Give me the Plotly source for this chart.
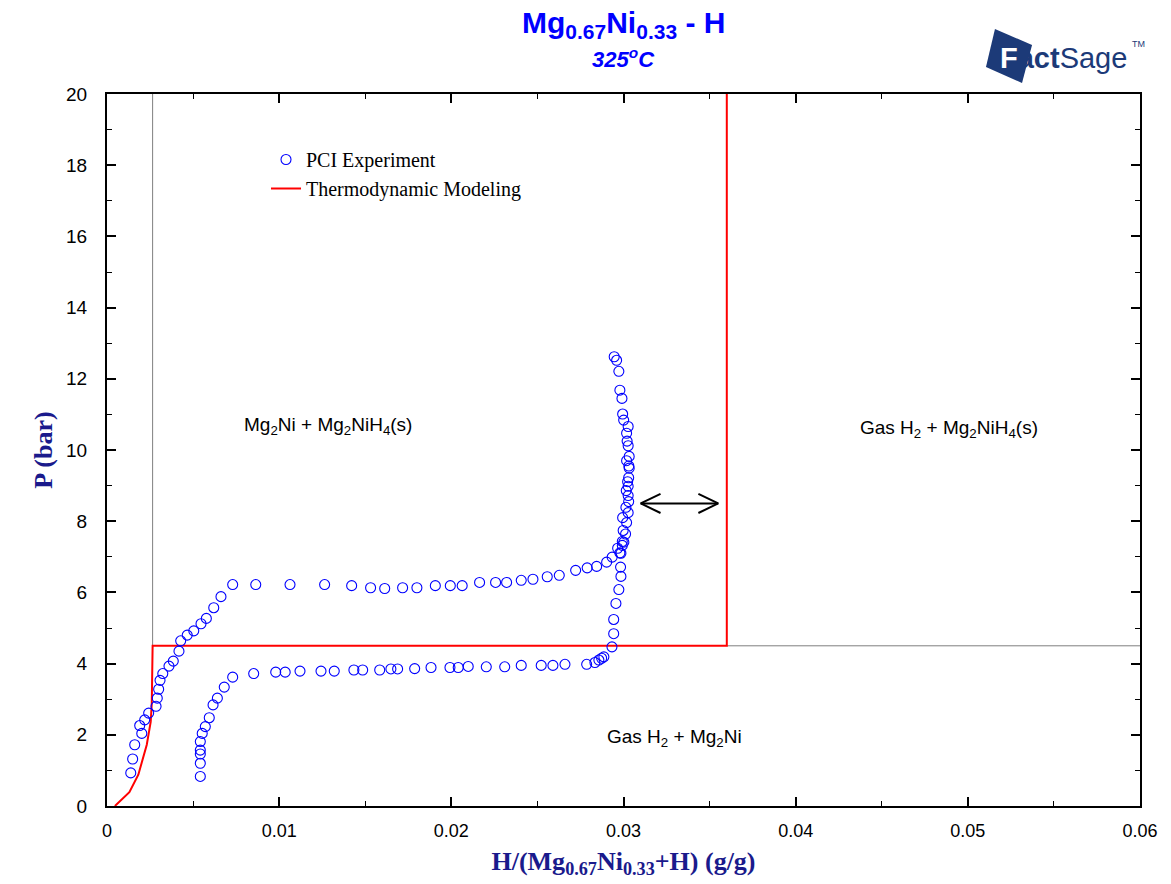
import plotly.graph_objects as go

# ---------------- data ----------------
# PCI experiment: upper branch (absorption) then lower branch (desorption)
EXP_X = [
    0.00138, 0.00149, 0.00161, 0.00190, 0.00202, 0.00219, 0.00242, 0.00285, 0.00292, 0.00300,
    0.00308, 0.00324, 0.00360, 0.00385, 0.00418, 0.00428, 0.00466, 0.00504, 0.00546, 0.00577,
    0.00620, 0.00662, 0.00730, 0.00864, 0.01063, 0.01264, 0.01421, 0.01531, 0.01613, 0.01717,
    0.01800, 0.01907, 0.01994, 0.02063, 0.02164, 0.02257, 0.02321, 0.02406, 0.02474, 0.02557,
    0.02627, 0.02722, 0.02789, 0.02844, 0.02902, 0.02934, 0.02966, 0.02979, 0.02993, 0.03002,
    0.03012, 0.02998, 0.03018, 0.02995, 0.03027, 0.03014, 0.03030, 0.03027, 0.03016, 0.03027,
    0.03024, 0.03030, 0.03033, 0.03031, 0.03018, 0.03033, 0.03027, 0.03021, 0.03018, 0.03027,
    0.03001, 0.02995, 0.02991, 0.02979, 0.02973, 0.02960, 0.02946,
    0.00542, 0.00542, 0.00542, 0.00542, 0.00542, 0.00553, 0.00571, 0.00594, 0.00616, 0.00641,
    0.00681, 0.00730, 0.00852, 0.00980, 0.01035, 0.01121, 0.01243, 0.01320, 0.01434, 0.01485,
    0.01584, 0.01649, 0.01688, 0.01787, 0.01882, 0.01992, 0.02040, 0.02098, 0.02203, 0.02310,
    0.02406, 0.02522, 0.02590, 0.02660, 0.02786, 0.02834, 0.02857, 0.02873, 0.02886, 0.02933,
    0.02943, 0.02943, 0.02956, 0.02973, 0.02985, 0.02983, 0.02985, 0.02993,
]
EXP_P = [
    0.93, 1.32, 1.72, 2.26, 2.04, 2.42, 2.61, 2.80, 3.03, 3.28,
    3.53, 3.72, 3.93, 4.07, 4.35, 4.64, 4.80, 4.92, 5.12, 5.27,
    5.57, 5.88, 6.22, 6.22, 6.22, 6.22, 6.19, 6.13, 6.11, 6.13,
    6.13, 6.19, 6.19, 6.19, 6.28, 6.28, 6.28, 6.34, 6.37, 6.44,
    6.48, 6.62, 6.69, 6.73, 6.85, 6.99, 7.24, 7.11, 7.43, 7.41,
    7.64, 7.74, 7.96, 8.10, 8.24, 8.39, 8.55, 8.72, 8.86, 8.98,
    9.11, 9.22, 9.49, 9.55, 9.70, 9.82, 10.12, 10.25, 10.47, 10.66,
    10.84, 11.01, 11.45, 11.68, 12.21, 12.52, 12.62,
    0.83, 1.20, 1.46, 1.57, 1.81, 2.04, 2.23, 2.48, 2.84, 3.03,
    3.34, 3.62, 3.72, 3.76, 3.76, 3.79, 3.79, 3.79, 3.82, 3.82,
    3.82, 3.85, 3.85, 3.86, 3.89, 3.89, 3.89, 3.92, 3.91, 3.91,
    3.95, 3.95, 3.95, 3.98, 3.98, 4.03, 4.10, 4.15, 4.19, 4.47,
    4.84, 5.24, 5.69, 6.08, 6.45, 6.71, 7.10, 7.32,
]

# Thermodynamic modeling curve
MODEL_X = [0.00046, 0.00130, 0.00182, 0.00231, 0.00254, 0.00260, 0.00265, 0.03600, 0.03600]
MODEL_P = [0.0, 0.39, 0.88, 1.72, 2.37, 2.88, 4.50, 4.50, 20.0]

# Phase boundaries (thin gray)
BOUND_V_X = [0.00265, 0.00265]
BOUND_V_P = [4.50, 20.0]
BOUND_H_X = [0.03600, 0.06]
BOUND_H_P = [4.50, 4.50]

# Double arrow
ARROW_X = [0.0310, 0.0355]
ARROW_P = 8.5

# Region labels
REGION_TEXT = ["Mg<sub>2</sub>Ni + Mg<sub>2</sub>NiH<sub>4</sub>(s)",
               "Gas H<sub>2</sub> + Mg<sub>2</sub>NiH<sub>4</sub>(s)",
               "Gas H<sub>2</sub> + Mg<sub>2</sub>Ni"]
REGION_X = [0.01283, 0.04890, 0.03298]
REGION_P = [10.67, 10.59, 1.90]

X_TICKS = [0, 0.01, 0.02, 0.03, 0.04, 0.05, 0.06]
X_TICK_LABELS = ["0", "0.01", "0.02", "0.03", "0.04", "0.05", "0.06"]
Y_TICKS = [0, 2, 4, 6, 8, 10, 12, 14, 16, 18, 20]
Y_TICK_LABELS = [str(v) for v in Y_TICKS]

# ---------------- figure ----------------
W, H = 1171, 884
ML, MR, MT, MB = 107, 31, 94, 78
PW, PH = W - ML - MR, H - MT - MB


def px(xp):
    return (xp - ML) / PW


def py(yp):
    return (H - MB - yp) / PH


fig = go.Figure()

fig.add_trace(go.Scatter(x=BOUND_V_X, y=BOUND_V_P, mode="lines",
                         line=dict(color="#7f7f7f", width=1), showlegend=False, hoverinfo="skip"))
fig.add_trace(go.Scatter(x=BOUND_H_X, y=BOUND_H_P, mode="lines",
                         line=dict(color="#7f7f7f", width=1), showlegend=False, hoverinfo="skip"))

fig.add_trace(go.Scatter(x=MODEL_X, y=MODEL_P, mode="lines", name="Thermodynamic Modeling",
                         line=dict(color="#ff0000", width=2), legendrank=2))

fig.add_trace(go.Scatter(x=EXP_X, y=EXP_P, mode="markers", name="PCI Experiment",
                         marker=dict(symbol="circle-open", size=10, color="#0000ff",
                                     line=dict(width=1.1, color="#0000ff")),
                         legendrank=1))

# double-headed arrow
ax0, ax1 = ARROW_X
hx, hy = 0.00115, 0.27
fig.add_trace(go.Scatter(x=[ax0, ax1], y=[ARROW_P, ARROW_P], mode="lines",
                         line=dict(color="black", width=2), showlegend=False, hoverinfo="skip"))
fig.add_trace(go.Scatter(x=[ax0 + hx, ax0, ax0 + hx], y=[ARROW_P + hy, ARROW_P, ARROW_P - hy],
                         mode="lines", line=dict(color="black", width=2), showlegend=False,
                         hoverinfo="skip"))
fig.add_trace(go.Scatter(x=[ax1 - hx, ax1, ax1 - hx], y=[ARROW_P + hy, ARROW_P, ARROW_P - hy],
                         mode="lines", line=dict(color="black", width=2), showlegend=False,
                         hoverinfo="skip"))

annotations = []
for t, xv, yv in zip(REGION_TEXT, REGION_X, REGION_P):
    annotations.append(dict(x=xv, y=yv, xref="x", yref="y", text=t, showarrow=False,
                            font=dict(family="Liberation Sans, Arial", size=19, color="black")))

# title
annotations.append(dict(x=0.5, y=py(24), xref="paper", yref="paper",
                        text="<b>Mg<sub>0.67</sub>Ni<sub>0.33</sub> - H</b>", showarrow=False,
                        font=dict(family="Liberation Sans, Arial", size=30, color="#0000ff"),
                        xanchor="center", yanchor="middle"))
annotations.append(dict(x=0.5, y=py(58), xref="paper", yref="paper",
                        text="<b><i>325<sup>o</sup>C</i></b>", showarrow=False,
                        font=dict(family="Liberation Sans, Arial", size=22, color="#0000ff"),
                        xanchor="center", yanchor="middle"))

# FactSage logo
NAVY = "#1c3a78"
annotations.append(dict(x=px(998), y=py(58), xref="paper", yref="paper",
                        text="<b><span style='color:#ffffff'>F</span>act</b>Sage",
                        showarrow=False, xanchor="left", yanchor="middle",
                        font=dict(family="Liberation Sans, Arial", size=29, color=NAVY)))
annotations.append(dict(x=px(1130), y=py(44), xref="paper", yref="paper", text="TM",
                        showarrow=False, xanchor="left", yanchor="middle",
                        font=dict(family="Liberation Sans, Arial", size=9, color=NAVY)))

logo_pts = [(995, 29), (1032, 45), (1022, 83), (986, 67)]
path = "M " + " L ".join(f"{px(a):.4f},{py(b):.4f}" for a, b in logo_pts) + " Z"
shapes = [dict(type="path", path=path, xref="paper", yref="paper",
               fillcolor=NAVY, line=dict(width=0), layer="below")]

axis_font = dict(family="Liberation Serif, Times New Roman", size=26, color="#1a1a8c")

fig.update_layout(
    width=W, height=H,
    margin=dict(l=ML, r=MR, t=MT, b=MB),
    paper_bgcolor="white", plot_bgcolor="white",
    annotations=annotations, shapes=shapes,
    showlegend=True,
    legend=dict(x=px(266), y=py(140), xanchor="left", yanchor="top",
                bgcolor="rgba(0,0,0,0)", borderwidth=0,
                font=dict(family="Liberation Serif, Times New Roman", size=20, color="black"),
                tracegroupgap=0, itemsizing="trace"),
    xaxis=dict(range=[0, 0.06], tickmode="array", tickvals=X_TICKS, ticktext=X_TICK_LABELS,
               ticks="inside", ticklen=9, tickwidth=1.5, tickcolor="black",
               minor=dict(tickmode="linear", tick0=0, dtick=0.005, ticks="inside", ticklen=5,
                          tickwidth=1.2, tickcolor="black", showgrid=False),
               showline=True, linecolor="black", linewidth=2, mirror="ticks",
               showgrid=False, zeroline=False, ticklabelstandoff=7,
               tickfont=dict(family="Liberation Sans Narrow, Arial Narrow, Liberation Sans", size=18,
                             color="black"),
               title=dict(text="<b>H/(Mg<sub>0.67</sub>Ni<sub>0.33</sub>+H) (g/g)</b>",
                          font=axis_font, standoff=12)),
    yaxis=dict(range=[0, 20], tickmode="array", tickvals=Y_TICKS, ticktext=Y_TICK_LABELS,
               ticks="inside", ticklen=9, tickwidth=1.5, tickcolor="black",
               minor=dict(tickmode="linear", tick0=0, dtick=1, ticks="inside", ticklen=5,
                          tickwidth=1.2, tickcolor="black", showgrid=False),
               showline=True, linecolor="black", linewidth=2, mirror="ticks",
               showgrid=False, zeroline=False, ticklabelstandoff=14,
               tickfont=dict(family="Liberation Sans, Arial", size=19, color="black"),
               title=dict(text="<b>P (bar)</b>", font=axis_font, standoff=6)),
)

fig.write_html("out.html")
